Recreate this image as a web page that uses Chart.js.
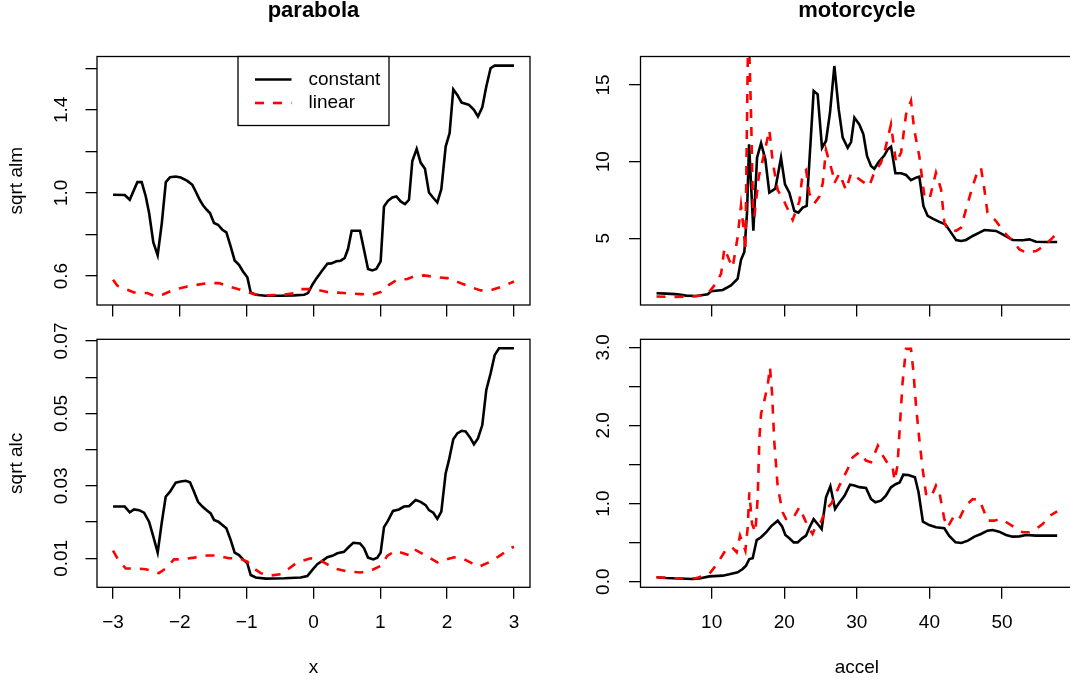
<!DOCTYPE html>
<html>
<head>
<meta charset="utf-8">
<script src="https://cdn.jsdelivr.net/npm/chart.js@4.4.1/dist/chart.umd.min.js"></script>
<style>
  html, body { margin: 0; padding: 0; background: #fff; overflow: hidden; }
  body { width: 1070px; height: 687px; position: relative; }
  canvas { position: absolute; left: 0; top: 0; }
</style>
</head>
<body>
<canvas id="parabolaAlm" width="1080" height="687"></canvas>
<canvas id="parabolaAlc" width="1080" height="687"></canvas>
<canvas id="mcycleAlm" width="1080" height="687"></canvas>
<canvas id="mcycleAlc" width="1080" height="687"></canvas>
<script>
// axis ticks
const parabolaTicks = [-3, -2, -1, 0, 1, 2, 3];
const parabolaTickLabels = ['\u22123', '\u22122', '\u22121', '0', '1', '2', '3'];
const accelTicks = [10, 20, 30, 40, 50];
const accelTickLabels = ['10', '20', '30', '40', '50'];
const almTicks = [0.6, 0.8, 1.0, 1.2, 1.4, 1.6];
const almTickLabels = ['0.6', '', '1.0', '', '1.4', ''];
const alcTicks = [0.01, 0.02, 0.03, 0.04, 0.05, 0.06, 0.07];
const alcTickLabels = ['0.01', '', '0.03', '', '0.05', '', '0.07'];
const mAlmTicks = [5, 10, 15];
const mAlmTickLabels = ['5', '10', '15'];
const mAlcTicks = [0, 0.5, 1, 1.5, 2, 2.5, 3];
const mAlcTickLabels = ['0.0', '', '1.0', '', '2.0', '', '3.0'];

// parabola: sqrt alm
const almConstant = [[-3, 0.991], [-2.825, 0.99], [-2.75, 0.967], [-2.636, 1.052], [-2.571, 1.052], [-2.51, 0.983], [-2.46, 0.903], [-2.397, 0.762], [-2.332, 0.70], [-2.27, 0.855], [-2.21, 1.052], [-2.147, 1.076], [-2.062, 1.079], [-1.987, 1.074], [-1.888, 1.058], [-1.813, 1.039], [-1.763, 1.007], [-1.703, 0.967], [-1.648, 0.938], [-1.598, 0.919], [-1.549, 0.903], [-1.489, 0.855], [-1.429, 0.847], [-1.364, 0.823], [-1.304, 0.81], [-1.24, 0.743], [-1.18, 0.675], [-1.115, 0.654], [-1.055, 0.622], [-0.99, 0.594], [-0.94, 0.521], [-0.865, 0.51], [-0.716, 0.505], [-0.49, 0.505], [-0.29, 0.507], [-0.14, 0.51], [-0.082, 0.518], [-0.017, 0.558], [0.047, 0.59], [0.117, 0.621], [0.207, 0.659], [0.267, 0.661], [0.342, 0.671], [0.407, 0.674], [0.467, 0.687], [0.516, 0.73], [0.571, 0.818], [0.631, 0.818], [0.696, 0.818], [0.756, 0.727], [0.816, 0.634], [0.88, 0.627], [0.94, 0.634], [1.005, 0.671], [1.055, 0.935], [1.115, 0.962], [1.18, 0.978], [1.24, 0.983], [1.304, 0.959], [1.369, 0.946], [1.429, 0.967], [1.479, 1.154], [1.544, 1.212], [1.603, 1.146], [1.668, 1.116], [1.728, 1.002], [1.788, 0.978], [1.853, 0.954], [1.913, 1.018], [1.978, 1.223], [2.037, 1.288], [2.092, 1.499], [2.152, 1.472], [2.217, 1.435], [2.327, 1.424], [2.401, 1.4], [2.461, 1.368], [2.526, 1.412], [2.586, 1.512], [2.65, 1.6], [2.711, 1.613], [3.0, 1.613]];
const almLinear = [[-3, 0.582], [-2.935, 0.553], [-2.786, 0.534], [-2.686, 0.521], [-2.486, 0.518], [-2.387, 0.505], [-2.262, 0.51], [-2.087, 0.534], [-1.888, 0.55], [-1.589, 0.566], [-1.414, 0.566], [-1.24, 0.547], [-1.065, 0.531], [-0.89, 0.513], [-0.691, 0.507], [-0.441, 0.51], [-0.292, 0.518], [-0.192, 0.537], [0.007, 0.537], [0.207, 0.523], [0.456, 0.518], [0.706, 0.513], [0.88, 0.51], [1.005, 0.523], [1.13, 0.558], [1.254, 0.582], [1.404, 0.586], [1.504, 0.598], [1.653, 0.603], [1.853, 0.594], [2.002, 0.59], [2.202, 0.566], [2.352, 0.547], [2.501, 0.531], [2.651, 0.531], [2.85, 0.553], [3.0, 0.574]];

// parabola: sqrt alc
const alcConstant = [[-3, 0.0243], [-2.825, 0.0243], [-2.75, 0.0227], [-2.686, 0.0235], [-2.611, 0.0233], [-2.536, 0.0226], [-2.461, 0.0201], [-2.397, 0.016], [-2.332, 0.0116], [-2.272, 0.0197], [-2.212, 0.027], [-2.147, 0.0284], [-2.062, 0.0309], [-1.987, 0.0312], [-1.913, 0.0314], [-1.848, 0.031], [-1.788, 0.0284], [-1.728, 0.0256], [-1.663, 0.0243], [-1.599, 0.0233], [-1.539, 0.0224], [-1.489, 0.0206], [-1.424, 0.0201], [-1.364, 0.0192], [-1.304, 0.0183], [-1.24, 0.0151], [-1.18, 0.0116], [-1.115, 0.0109], [-1.055, 0.0097], [-0.99, 0.0086], [-0.94, 0.0054], [-0.865, 0.0047], [-0.716, 0.0044], [-0.441, 0.0045], [-0.192, 0.0047], [-0.092, 0.0051], [-0.017, 0.0068], [0.057, 0.0084], [0.132, 0.0093], [0.207, 0.0103], [0.282, 0.0107], [0.357, 0.0114], [0.456, 0.0118], [0.531, 0.0132], [0.596, 0.0143], [0.696, 0.0141], [0.756, 0.0128], [0.816, 0.0102], [0.895, 0.0097], [0.955, 0.0102], [1.005, 0.0116], [1.055, 0.0186], [1.115, 0.0204], [1.19, 0.0231], [1.279, 0.0235], [1.354, 0.0243], [1.429, 0.0244], [1.529, 0.0261], [1.603, 0.0256], [1.678, 0.0247], [1.728, 0.0233], [1.793, 0.0226], [1.853, 0.0209], [1.913, 0.0229], [1.978, 0.0335], [2.027, 0.0371], [2.092, 0.0429], [2.152, 0.0445], [2.217, 0.0452], [2.277, 0.045], [2.342, 0.0434], [2.401, 0.0415], [2.461, 0.0431], [2.526, 0.0468], [2.586, 0.0565], [2.651, 0.0611], [2.711, 0.0661], [2.776, 0.068], [3.0, 0.068]];
const alcLinear = [[-3, 0.0121], [-2.935, 0.01], [-2.81, 0.0072], [-2.686, 0.0072], [-2.511, 0.007], [-2.312, 0.0059], [-2.212, 0.0072], [-2.087, 0.0097], [-1.987, 0.0097], [-1.788, 0.0102], [-1.589, 0.0108], [-1.439, 0.0108], [-1.264, 0.01], [-1.115, 0.01], [-0.99, 0.0091], [-0.915, 0.0075], [-0.79, 0.0059], [-0.666, 0.0052], [-0.491, 0.0056], [-0.367, 0.0072], [-0.242, 0.0089], [-0.042, 0.01], [0.107, 0.0094], [0.307, 0.0072], [0.506, 0.0064], [0.706, 0.0061], [0.855, 0.0066], [1.005, 0.0079], [1.105, 0.0107], [1.229, 0.0121], [1.429, 0.0109], [1.504, 0.0125], [1.579, 0.0118], [1.703, 0.0105], [1.853, 0.0089], [1.953, 0.0095], [2.102, 0.0103], [2.227, 0.01], [2.376, 0.0086], [2.476, 0.0077], [2.651, 0.0091], [2.801, 0.0109], [2.95, 0.0128], [3.0, 0.0132]];

// motorcycle: sqrt alm
const mAlmConstant = [[2.4, 1.42], [3.7, 1.39], [5.0, 1.36], [5.77, 1.32], [6.46, 1.26], [7.84, 1.24], [9.45, 1.35], [9.91, 1.55], [11.52, 1.63], [12.66, 1.93], [13.58, 2.37], [14.04, 3.6], [14.5, 4.11], [14.87, 6.67], [15.15, 11.13], [15.74, 5.5], [16.25, 10.26], [16.8, 11.2], [17.39, 10.15], [17.94, 7.98], [18.77, 8.24], [19.55, 10.26], [20.1, 8.52], [20.7, 7.98], [21.39, 6.78], [21.94, 6.67], [22.54, 7.0], [23.09, 7.11], [24.05, 14.61], [24.6, 14.39], [25.2, 10.91], [25.75, 11.35], [26.3, 13.2], [26.9, 16.24], [27.5, 13.41], [28.05, 11.57], [28.74, 10.91], [29.2, 11.28], [29.66, 12.87], [30.34, 12.43], [30.9, 11.78], [31.4, 10.37], [31.95, 9.72], [32.41, 9.54], [33.0, 9.98], [33.8, 10.41], [34.25, 10.8], [34.71, 10.98], [35.31, 9.24], [36.09, 9.24], [36.78, 9.13], [37.46, 8.8], [38.15, 8.96], [38.61, 9.02], [39.17, 7.11], [39.76, 6.46], [40.45, 6.28], [41.37, 6.07], [42.2, 5.91], [42.98, 5.37], [43.67, 4.89], [44.36, 4.83], [45.04, 4.89], [45.96, 5.15], [46.88, 5.37], [47.57, 5.54], [49.17, 5.48], [50.09, 5.26], [51.47, 4.89], [52.85, 4.87], [53.77, 4.93], [54.69, 4.78], [56.07, 4.76], [57.6, 4.76]];
const mAlmLinear = [[2.4, 1.2], [5.1, 1.18], [7.84, 1.22], [9.2, 1.3], [9.7, 1.52], [10.6, 2.07], [11.3, 2.7], [11.75, 4.35], [12.4, 3.6], [12.89, 3.1], [13.58, 5.1], [14.04, 7.15], [14.36, 5.76], [14.64, 4.2], [15.05, 19.5], [15.42, 13.15], [15.7, 6.8], [15.88, 6.41], [16.48, 9.0], [17.03, 10.1], [17.95, 12.07], [18.4, 10.0], [19.09, 8.15], [20.0, 7.4], [21.16, 6.2], [22.08, 7.4], [22.54, 9.24], [23.0, 9.46], [23.46, 7.93], [24.14, 7.28], [24.83, 7.72], [25.3, 8.59], [25.75, 10.76], [26.67, 9.24], [26.9, 8.59], [27.6, 9.24], [28.5, 8.15], [29.2, 9.24], [29.9, 9.0], [30.8, 8.7], [31.7, 8.4], [32.4, 9.3], [33.3, 9.9], [33.8, 10.6], [34.7, 12.43], [35.4, 9.93], [36.1, 10.6], [36.78, 13.09], [37.46, 13.96], [37.9, 12.1], [38.6, 10.37], [39.3, 7.76], [40.0, 7.54], [40.9, 9.28], [41.6, 8.2], [42.07, 6.0], [42.5, 5.59], [43.67, 5.48], [44.36, 5.7], [45.04, 6.89], [45.96, 8.41], [46.65, 9.39], [47.1, 9.6], [47.57, 8.2], [48.0, 6.67], [49.17, 6.13], [50.3, 5.37], [51.25, 4.93], [52.4, 4.28], [53.3, 4.07], [54.69, 4.17], [55.8, 4.5], [56.99, 5.04], [57.6, 5.37]];

// motorcycle: sqrt alc
const mAlcConstant = [[2.4, 0.056], [3.7, 0.047], [5.5, 0.04], [7.4, 0.035], [8.3, 0.04], [9.68, 0.068], [11.52, 0.077], [12.43, 0.094], [13.58, 0.12], [14.27, 0.162], [14.73, 0.205], [15.19, 0.29], [15.65, 0.3], [16.2, 0.533], [16.8, 0.568], [17.49, 0.63], [18.17, 0.708], [19.1, 0.78], [19.7, 0.708], [20.15, 0.597], [20.7, 0.555], [21.3, 0.503], [21.85, 0.503], [22.45, 0.555], [23.0, 0.589], [23.55, 0.708], [24.05, 0.8], [24.6, 0.738], [25.15, 0.674], [25.75, 1.08], [26.35, 1.22], [27.0, 0.93], [27.5, 1.0], [28.3, 1.1], [29.06, 1.24], [29.66, 1.23], [30.34, 1.21], [31.26, 1.2], [31.95, 1.058], [32.55, 1.016], [33.33, 1.037], [34.0, 1.1], [34.7, 1.208], [35.4, 1.25], [35.9, 1.27], [36.4, 1.37], [37.1, 1.366], [38.0, 1.336], [38.5, 1.144], [39.1, 0.768], [39.97, 0.725], [40.9, 0.696], [42.05, 0.683], [42.7, 0.589], [43.6, 0.503], [44.4, 0.495], [45.3, 0.525], [46.2, 0.576], [47.1, 0.61], [48.0, 0.653], [48.7, 0.661], [49.6, 0.64], [50.55, 0.597], [51.47, 0.576], [52.4, 0.58], [53.3, 0.597], [54.69, 0.589], [57.6, 0.589]];
const mAlcLinear = [[2.4, 0.056], [5.1, 0.043], [7.84, 0.043], [9.68, 0.1], [10.37, 0.183], [11.29, 0.31], [11.97, 0.41], [12.8, 0.44], [13.44, 0.376], [13.9, 0.589], [14.64, 0.397], [14.96, 0.696], [15.19, 1.144], [15.56, 0.738], [16.02, 0.632], [16.34, 1.08], [16.57, 1.826], [16.8, 2.147], [17.25, 2.317], [17.71, 2.51], [18.03, 2.744], [18.31, 2.424], [18.63, 1.784], [19.1, 1.208], [19.78, 0.888], [20.24, 0.802], [21.16, 0.802], [22.08, 0.952], [22.9, 0.781], [23.46, 0.674], [23.9, 0.61], [24.37, 0.717], [25.06, 0.768], [25.75, 0.93], [26.5, 1.0], [27.6, 1.23], [28.97, 1.485], [29.4, 1.59], [30.34, 1.656], [31.26, 1.55], [31.95, 1.53], [32.9, 1.74], [33.6, 1.61], [34.3, 1.506], [34.9, 1.485], [35.2, 1.293], [35.6, 1.485], [35.9, 1.955], [36.3, 2.55], [36.77, 2.98], [37.46, 2.98], [37.8, 2.68], [38.15, 2.253], [38.6, 1.826], [39.07, 1.44], [39.53, 1.122], [40.2, 1.08], [40.9, 1.229], [41.37, 1.144], [42.05, 0.802], [42.5, 0.696], [43.4, 0.845], [44.1, 0.802], [45.0, 0.973], [45.96, 1.058], [46.9, 1.045], [47.57, 0.888], [48.0, 0.781], [48.94, 0.781], [49.86, 0.802], [51.0, 0.738], [51.9, 0.683], [52.85, 0.632], [53.77, 0.632], [54.69, 0.674], [55.6, 0.738], [56.6, 0.845], [57.6, 0.9]];

const FONT = "'Liberation Sans', Arial, Helvetica, sans-serif";
const FONT_SIZE = 19;
const TICK_LEN = 11.5;
Chart.defaults.font.family = FONT;
Chart.defaults.font.size = FONT_SIZE;
Chart.defaults.color = '#000';

// y tick labels are rotated and centred a fixed distance left of the box,
// so the padding has to take the widest label into account
const measureCtx = document.createElement('canvas').getContext('2d');
function yLabelPadding(labels, gap) {
  measureCtx.font = FONT_SIZE + 'px ' + FONT;
  const widest = Math.max(...labels.map(l => measureCtx.measureText(l).width));
  return gap - TICK_LEN - widest / 2;
}

const toXY = pts => pts.map(p => ({ x: p[0], y: p[1] }));

// plot box drawn round the chart area
const frame = {
  id: 'frame',
  afterDatasetsDraw(chart) {
    const { ctx, chartArea: a } = chart;
    ctx.save();
    ctx.strokeStyle = '#000';
    ctx.lineWidth = 1.3;
    ctx.strokeRect(a.left, a.top, a.right - a.left, a.bottom - a.top);
    ctx.restore();
  }
};

// boxed legend at the top centre of the plot
const boxLegend = {
  id: 'boxLegend',
  afterDraw(chart, args, opts) {
    if (!opts.display) return;
    const { ctx, chartArea: a } = chart;
    const x = (a.left + a.right) / 2 - opts.width / 2;
    const y = a.top;
    ctx.save();
    ctx.fillStyle = '#fff';
    ctx.fillRect(x, y, opts.width, opts.height);
    ctx.strokeStyle = '#000';
    ctx.lineWidth = 1.3;
    ctx.strokeRect(x, y, opts.width, opts.height);
    chart.data.datasets.forEach((ds, i) => {
      const cy = y + 23 + i * 23.5;
      ctx.strokeStyle = ds.borderColor;
      ctx.lineWidth = ds.borderWidth;
      ctx.setLineDash(ds.borderDash || []);
      ctx.beginPath();
      ctx.moveTo(x + 17, cy);
      ctx.lineTo(x + 53.5, cy);
      ctx.stroke();
      ctx.setLineDash([]);
      ctx.fillStyle = '#000';
      ctx.font = FONT_SIZE + 'px ' + FONT;
      ctx.textBaseline = 'middle';
      ctx.fillText(ds.label, x + 70.5, cy);
    });
    ctx.restore();
  }
};

function panel(id, o) {
  const yPad = yLabelPadding(o.yLabels.filter(l => l), o.labelGap);
  return new Chart(document.getElementById(id), {
    type: 'line',
    data: {
      datasets: [
        { label: 'constant', data: toXY(o.constant), borderColor: '#000000', borderWidth: 2.6, order: 1 },
        { label: 'linear', data: toXY(o.linear), borderColor: '#ff0000', borderWidth: 2.6, borderDash: [9, 9], order: 0 }
      ]
    },
    options: {
      responsive: false,
      animation: false,
      devicePixelRatio: 1,
      events: [],
      elements: { point: { radius: 0 }, line: { tension: 0 } },
      layout: { padding: o.padding },
      plugins: {
        legend: { display: false },
        tooltip: { enabled: false },
        title: {
          display: !!o.title,
          text: o.title,
          fullSize: false,
          color: '#000',
          font: { size: 22, weight: 'bold', lineHeight: 1 },
          padding: { top: 0, bottom: 34.5 }
        },
        boxLegend: { display: !!o.legend, width: 151, height: 69 }
      },
      scales: {
        x: {
          type: 'linear',
          min: o.xMin, max: o.xMax,
          afterBuildTicks: s => { s.ticks = o.xTicks.map(v => ({ value: v })); },
          afterFit: s => { s.height = o.xHeight; },
          grid: { drawOnChartArea: false, drawTicks: true, tickLength: TICK_LEN, color: '#000', lineWidth: 1.3 },
          border: { display: false },
          ticks: {
            display: !!o.xTitle,
            autoSkip: false, maxRotation: 0, minRotation: 0,
            padding: 12.8, color: '#000',
            callback: (v, i) => o.xLabels[i]
          },
          title: {
            display: !!o.xTitle, text: o.xTitle, color: '#000',
            padding: { top: 0, bottom: 7.6 }
          }
        },
        y: {
          type: 'linear',
          min: o.yMin, max: o.yMax,
          afterBuildTicks: s => { s.ticks = o.yTicks.map(v => ({ value: v })); },
          afterFit: s => { s.width = o.yWidth; },
          grid: { drawOnChartArea: false, drawTicks: true, tickLength: TICK_LEN, color: '#000', lineWidth: 1.3 },
          border: { display: false },
          ticks: {
            autoSkip: false, minRotation: 90, maxRotation: 90,
            crossAlign: 'center', padding: yPad, color: '#000',
            callback: (v, i) => o.yLabels[i]
          },
          title: {
            display: !!o.yTitle, text: o.yTitle, color: '#000',
            padding: { top: 5, bottom: 0 }
          }
        }
      }
    },
    plugins: [frame, boxLegend]
  });
}

const paraRange = { xMin: -3.24, xMax: 3.24, xTicks: parabolaTicks, xLabels: parabolaTickLabels };
const accelRange = { xMin: 0.192, xMax: 59.808, xTicks: accelTicks, xLabels: accelTickLabels };

panel('parabolaAlm', Object.assign({}, paraRange, {
  title: 'parabola', legend: true, yTitle: 'sqrt alm',
  constant: almConstant, linear: almLinear,
  yMin: 0.4606, yMax: 1.6567, yTicks: almTicks, yLabels: almTickLabels,
  padding: { left: 0, top: 0, right: 550, bottom: 357 },
  yWidth: 97, xHeight: 25, labelGap: 35.2
}));

panel('parabolaAlc', Object.assign({}, paraRange, {
  yTitle: 'sqrt alc', xTitle: 'x',
  constant: alcConstant, linear: alcLinear,
  yMin: 0.0020, yMax: 0.07047, yTicks: alcTicks, yLabels: alcTickLabels,
  padding: { left: 0, top: 339.3, right: 550, bottom: 0 },
  yWidth: 97, xHeight: 99.7, labelGap: 35.2
}));

panel('mcycleAlm', Object.assign({}, accelRange, {
  title: 'motorcycle',
  constant: mAlmConstant, linear: mAlmLinear,
  yMin: 0.649, yMax: 16.86, yTicks: mAlmTicks, yLabels: mAlmTickLabels,
  padding: { left: 535, top: 0, right: 6.8, bottom: 357 },
  yWidth: 105.5, xHeight: 25, labelGap: 36.8
}));

panel('mcycleAlc', Object.assign({}, accelRange, {
  xTitle: 'accel',
  constant: mAlcConstant, linear: mAlcLinear,
  yMin: -0.072, yMax: 3.102, yTicks: mAlcTicks, yLabels: mAlcTickLabels,
  padding: { left: 535, top: 339.3, right: 6.8, bottom: 0 },
  yWidth: 105.5, xHeight: 99.7, labelGap: 36.8
}));
</script>
</body>
</html>
